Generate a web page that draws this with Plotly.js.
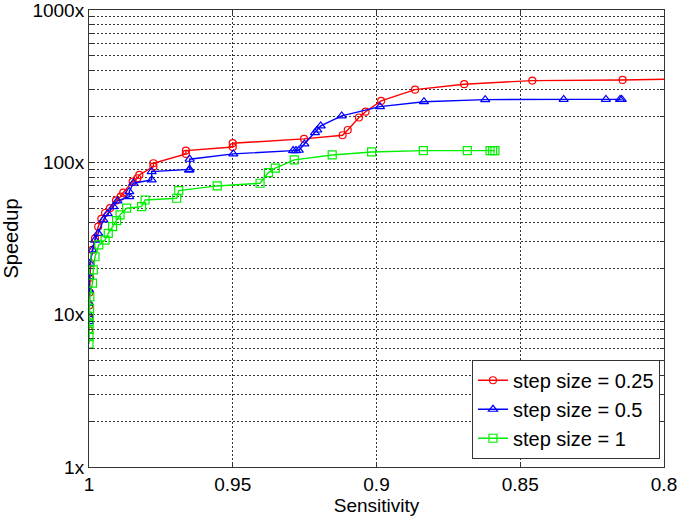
<!DOCTYPE html>
<html>
<head>
<meta charset="utf-8">
<script src="https://cdn.plot.ly/plotly-3.0.1.min.js"></script>
<style>html,body{margin:0;padding:0;background:#fff;}#chart{width:683px;height:517px;}</style>
</head>
<body>
<div id="chart"></div>
<script>
// Sensitivity (x) and speedup (y) for each step size
var sens025 = [1.0000, 1.0000, 0.9999, 0.9998, 0.9996, 0.9995, 0.9989, 0.9979, 0.9968, 0.9957, 0.9944, 0.9927, 0.9906, 0.9890, 0.9881, 0.9848, 0.9832, 0.9825, 0.9776, 0.9776, 0.9663, 0.9663, 0.9500, 0.9500, 0.9252, 0.9118, 0.9100, 0.9061, 0.9038, 0.8984, 0.8866, 0.8695, 0.8458, 0.8144, 0.7950];
var speed025 = [7.9, 9.5, 11.5, 14, 17.5, 21.7, 26.6, 31.7, 37.8, 42.5, 46.5, 50, 56.2, 59.5, 63.2, 74.7, 78.6, 82.7, 93.7, 98.6, 113.6, 119.4, 126, 133.5, 142.5, 150.6, 163, 197, 215, 253, 300, 325.7, 344, 347.5, 352];

var sens05 = [1.0000, 1.0000, 1.0000, 1.0000, 0.9999, 0.9997, 0.9988, 0.9979, 0.9968, 0.9950, 0.9935, 0.9915, 0.9901, 0.9860, 0.9860, 0.9846, 0.9782, 0.9782, 0.9652, 0.9650, 0.9650, 0.9498, 0.9290, 0.9280, 0.9270, 0.9251, 0.9214, 0.9206, 0.9194, 0.9121, 0.8988, 0.8835, 0.8622, 0.8349, 0.8202, 0.8153, 0.8147];
var speed05 = [9.0, 10.0, 11.9, 14.5, 17.8, 21.7, 26.6, 30.9, 34.2, 41.9, 46, 51.2, 55.8, 59.5, 64.2, 72.9, 76.6, 86.9, 89, 89.8, 104.8, 113.6, 119.4, 119.4, 120, 132, 156.7, 163, 173.4, 201.7, 232, 250, 258, 259, 259, 259, 259];

var sens1 = [1.0000, 1.0000, 1.0000, 1.0000, 0.9999, 0.9998, 0.9997, 0.9988, 0.9985, 0.9979, 0.9966, 0.9944, 0.9933, 0.9918, 0.9904, 0.9892, 0.9869, 0.9817, 0.9805, 0.9695, 0.9688, 0.9554, 0.9405, 0.9376, 0.9352, 0.9286, 0.9154, 0.9017, 0.8837, 0.8684, 0.8605, 0.8596, 0.8588];
var speed1 = [6.43, 7.18, 8.0, 8.8, 9.7, 11, 13.1, 16.1, 19.7, 24, 28.7, 30.9, 34.2, 37.8, 41.4, 45.2, 50, 51.2, 56.6, 58.1, 65.2, 70, 72.9, 85.6, 91.5, 103.7, 111.8, 117, 119.4, 119.4, 119.4, 119.4, 119.4];

var seriesNames = ['step size = 0.25', 'step size = 0.5', 'step size = 1'];
var xTickVals = [1, 0.95, 0.9, 0.85, 0.8];
var xTickText = ['1', '0.95', '0.9', '0.85', '0.8'];
var yDecades = [1, 10, 100, 1000];
var yDecadeText = ['1x', '10x', '100x', '1000x'];

var yTickVals = [], yTickText = [];
for (var d = 0; d < 3; d++) {
  for (var m = 1; m <= 9; m++) {
    var v = yDecades[d] * m;
    yTickVals.push(v);
    yTickText.push(m === 1 ? yDecadeText[d] : '');
  }
}
yTickVals.push(1000); yTickText.push('1000x');

var FONT = 'Liberation Sans, Arial, sans-serif';
var gridDash = '2px,2px';

function trace(x, y, name, color, symbol, size) {
  return {
    x: x, y: y, name: name, type: 'scatter', mode: 'lines+markers',
    line: {color: color, width: 1.4},
    marker: {symbol: symbol, size: size, color: color, line: {color: color, width: 1.2}},
    cliponaxis: true
  };
}

var data = [
  trace(sens025, speed025, seriesNames[0], '#ff0000', 'circle-open', 7),
  trace(sens05, speed05, seriesNames[1], '#0000ff', 'triangle-up-open', 8),
  trace(sens1, speed1, seriesNames[2], '#00f000', 'square-open', 8)
];

var layout = {
  width: 683, height: 517,
  margin: {l: 89, r: 19, t: 10, b: 50},
  paper_bgcolor: '#ffffff', plot_bgcolor: '#ffffff',
  font: {family: FONT, size: 18, color: '#000'},
  showlegend: true,
  legend: {
    x: 0.993, y: 0.018, xanchor: 'right', yanchor: 'bottom',
    bgcolor: '#ffffff', bordercolor: '#333', borderwidth: 1,
    font: {family: FONT, size: 20, color: '#000'},
    tracegroupgap: 0
  },
  xaxis: {
    range: [1, 0.8], autorange: false,
    tickmode: 'array', tickvals: xTickVals, ticktext: xTickText,
    showgrid: true, gridcolor: '#333', griddash: gridDash, gridwidth: 1,
    zeroline: false, showline: true, linecolor: '#333', linewidth: 1, mirror: 'ticks',
    ticks: 'inside', ticklen: 5, tickcolor: '#333',
    ticklabeloverflow: 'allow',
    tickfont: {family: FONT, size: 19},
    title: {text: 'Sensitivity', font: {family: FONT, size: 19}, standoff: 4}
  },
  yaxis: {
    type: 'log', range: [0, 3], autorange: false,
    tickmode: 'array', tickvals: yTickVals, ticktext: yTickText,
    showgrid: true, gridcolor: '#333', griddash: gridDash, gridwidth: 1,
    zeroline: false, showline: true, linecolor: '#333', linewidth: 1, mirror: 'ticks',
    ticks: 'inside', ticklen: 4, tickcolor: '#333',
    ticklabeloverflow: 'allow',
    tickfont: {family: FONT, size: 19},
    title: {text: 'Speedup', font: {family: FONT, size: 20}, standoff: 8}
  }
};

Plotly.newPlot('chart', data, layout, {staticPlot: true, displayModeBar: false});
</script>
</body>
</html>
